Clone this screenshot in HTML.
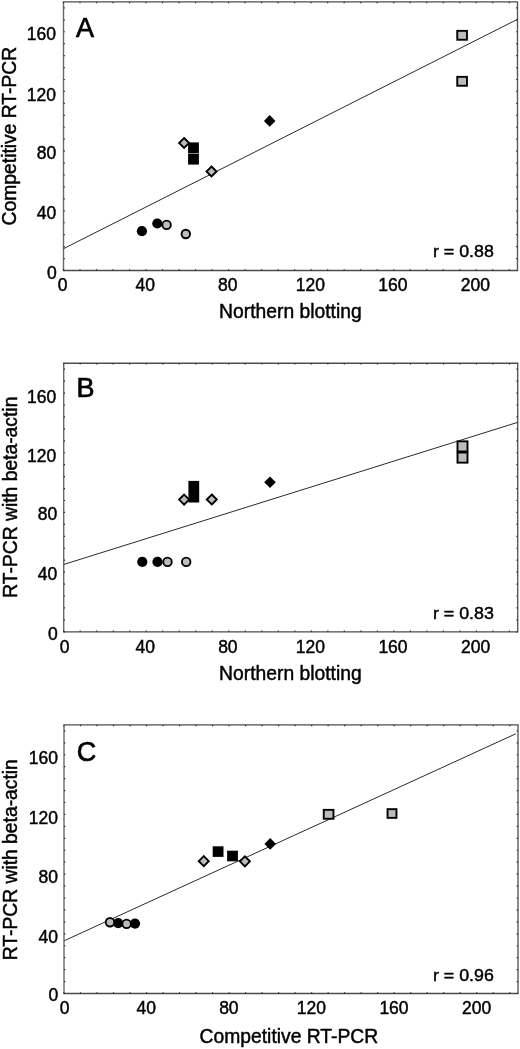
<!DOCTYPE html>
<html><head><meta charset="utf-8"><title>Figure</title>
<style>
html,body{margin:0;padding:0;background:#fff;}
body{width:520px;height:1049px;overflow:hidden;}
svg{display:block;filter:grayscale(1);}
text{font-family:"Liberation Sans",sans-serif;fill:#000;stroke:#000;stroke-width:0.45px;}
</style></head><body>
<svg width="520" height="1049" viewBox="0 0 520 1049">
<rect width="520" height="1049" fill="#fff"/>
<path d="M62.90 1.90H518.10M62.90 270.50H518.10" stroke="#4c4c4c" stroke-width="1.35" fill="none"/>
<path d="M63.50 1.90V270.50" stroke="#6a6a6a" stroke-width="1.4" fill="none"/>
<path d="M517.50 1.90V270.50" stroke="#555" stroke-width="1.35" fill="none"/>
<path d="M63.50 270.50v-1.3M63.50 1.90v1.3M80.01 270.50v-1.3M80.01 1.90v1.3M96.52 270.50v-1.3M96.52 1.90v1.3M113.03 270.50v-1.3M113.03 1.90v1.3M129.54 270.50v-1.3M129.54 1.90v1.3M146.05 270.50v-1.3M146.05 1.90v1.3M162.55 270.50v-1.3M162.55 1.90v1.3M179.06 270.50v-1.3M179.06 1.90v1.3M195.57 270.50v-1.3M195.57 1.90v1.3M212.08 270.50v-1.3M212.08 1.90v1.3M228.59 270.50v-1.3M228.59 1.90v1.3M245.10 270.50v-1.3M245.10 1.90v1.3M261.61 270.50v-1.3M261.61 1.90v1.3M278.12 270.50v-1.3M278.12 1.90v1.3M294.63 270.50v-1.3M294.63 1.90v1.3M311.14 270.50v-1.3M311.14 1.90v1.3M327.65 270.50v-1.3M327.65 1.90v1.3M344.15 270.50v-1.3M344.15 1.90v1.3M360.66 270.50v-1.3M360.66 1.90v1.3M377.17 270.50v-1.3M377.17 1.90v1.3M393.68 270.50v-1.3M393.68 1.90v1.3M410.19 270.50v-1.3M410.19 1.90v1.3M426.70 270.50v-1.3M426.70 1.90v1.3M443.21 270.50v-1.3M443.21 1.90v1.3M459.72 270.50v-1.3M459.72 1.90v1.3M476.23 270.50v-1.3M476.23 1.90v1.3M492.74 270.50v-1.3M492.74 1.90v1.3M509.25 270.50v-1.3M509.25 1.90v1.3M63.50 270.50h1.3M517.50 270.50h-1.3M63.50 258.56h1.3M517.50 258.56h-1.3M63.50 246.62h1.3M517.50 246.62h-1.3M63.50 234.69h1.3M517.50 234.69h-1.3M63.50 222.75h1.3M517.50 222.75h-1.3M63.50 210.81h1.3M517.50 210.81h-1.3M63.50 198.87h1.3M517.50 198.87h-1.3M63.50 186.94h1.3M517.50 186.94h-1.3M63.50 175.00h1.3M517.50 175.00h-1.3M63.50 163.06h1.3M517.50 163.06h-1.3M63.50 151.12h1.3M517.50 151.12h-1.3M63.50 139.18h1.3M517.50 139.18h-1.3M63.50 127.25h1.3M517.50 127.25h-1.3M63.50 115.31h1.3M517.50 115.31h-1.3M63.50 103.37h1.3M517.50 103.37h-1.3M63.50 91.43h1.3M517.50 91.43h-1.3M63.50 79.50h1.3M517.50 79.50h-1.3M63.50 67.56h1.3M517.50 67.56h-1.3M63.50 55.62h1.3M517.50 55.62h-1.3M63.50 43.68h1.3M517.50 43.68h-1.3M63.50 31.74h1.3M517.50 31.74h-1.3M63.50 19.81h1.3M517.50 19.81h-1.3M63.50 7.87h1.3M517.50 7.87h-1.3" stroke="#2a2a2a" stroke-width="1.2" fill="none"/>
<text x="55.90" y="40.10" text-anchor="end" font-size="17.5">160</text>
<text x="55.90" y="101.10" text-anchor="end" font-size="17.5">120</text>
<text x="56.30" y="158.80" text-anchor="end" font-size="17.5">80</text>
<text x="56.30" y="219.00" text-anchor="end" font-size="17.5">40</text>
<text x="56.70" y="278.70" text-anchor="end" font-size="17.5">0</text>
<text x="62.70" y="290.70" text-anchor="middle" font-size="17.5">0</text>
<text x="145.25" y="290.70" text-anchor="middle" font-size="17.5">40</text>
<text x="227.79" y="290.70" text-anchor="middle" font-size="17.5">80</text>
<text x="310.34" y="290.70" text-anchor="middle" font-size="17.5">120</text>
<text x="392.88" y="290.70" text-anchor="middle" font-size="17.5">160</text>
<text x="475.43" y="290.70" text-anchor="middle" font-size="17.5">200</text>
<text x="290.40" y="317.70" text-anchor="middle" font-size="19.3">Northern blotting</text>
<text transform="translate(16.00 136.10) rotate(-90)" text-anchor="middle" font-size="19.3">Competitive RT-PCR</text>
<text x="76.00" y="37.30" font-size="27" style="stroke-width:0.7px">A</text>
<text transform="translate(433.00 257.00) scale(1.06 1)" font-size="16.8">r = 0.88</text>
<line x1="63.5" y1="248.7" x2="517.5" y2="19.3" stroke="#2a2a2a" stroke-width="1.0"/>
<rect x="188.10" y="153.90" width="10.8" height="10.7" fill="#000"/>
<rect x="188.10" y="142.40" width="10.8" height="11.0" fill="#000"/>
<path d="M184.1 138.0L189.1 143.0L184.1 148.0L179.1 143.0Z" fill="#bcbcbc" stroke="#000" stroke-width="1.9" stroke-linejoin="miter"/>
<path d="M211.5 166.5L216.5 171.5L211.5 176.5L206.5 171.5Z" fill="#bcbcbc" stroke="#000" stroke-width="1.9" stroke-linejoin="miter"/>
<circle cx="141.9" cy="231.2" r="5.1" fill="#000"/>
<circle cx="157.3" cy="223.5" r="5.1" fill="#000"/>
<circle cx="166.6" cy="224.9" r="4.25" fill="#bcbcbc" stroke="#000" stroke-width="1.9"/>
<circle cx="185.8" cy="234.0" r="4.25" fill="#bcbcbc" stroke="#000" stroke-width="1.9"/>
<path d="M269.7 115.10000000000001L275.5 120.9L269.7 126.7L263.9 120.9Z" fill="#000"/>
<rect x="457.25" y="30.85" width="9.70" height="8.90" fill="#bcbcbc" stroke="#000" stroke-width="1.9"/>
<rect x="457.25" y="76.85" width="9.70" height="8.90" fill="#bcbcbc" stroke="#000" stroke-width="1.9"/>
<path d="M63.10 363.20H518.30M63.10 631.80H518.30" stroke="#4c4c4c" stroke-width="1.35" fill="none"/>
<path d="M63.70 363.20V631.80" stroke="#6a6a6a" stroke-width="1.4" fill="none"/>
<path d="M517.70 363.20V631.80" stroke="#555" stroke-width="1.35" fill="none"/>
<path d="M63.70 631.80v-1.3M63.70 363.20v1.3M80.21 631.80v-1.3M80.21 363.20v1.3M96.72 631.80v-1.3M96.72 363.20v1.3M113.23 631.80v-1.3M113.23 363.20v1.3M129.74 631.80v-1.3M129.74 363.20v1.3M146.25 631.80v-1.3M146.25 363.20v1.3M162.75 631.80v-1.3M162.75 363.20v1.3M179.26 631.80v-1.3M179.26 363.20v1.3M195.77 631.80v-1.3M195.77 363.20v1.3M212.28 631.80v-1.3M212.28 363.20v1.3M228.79 631.80v-1.3M228.79 363.20v1.3M245.30 631.80v-1.3M245.30 363.20v1.3M261.81 631.80v-1.3M261.81 363.20v1.3M278.32 631.80v-1.3M278.32 363.20v1.3M294.83 631.80v-1.3M294.83 363.20v1.3M311.34 631.80v-1.3M311.34 363.20v1.3M327.85 631.80v-1.3M327.85 363.20v1.3M344.35 631.80v-1.3M344.35 363.20v1.3M360.86 631.80v-1.3M360.86 363.20v1.3M377.37 631.80v-1.3M377.37 363.20v1.3M393.88 631.80v-1.3M393.88 363.20v1.3M410.39 631.80v-1.3M410.39 363.20v1.3M426.90 631.80v-1.3M426.90 363.20v1.3M443.41 631.80v-1.3M443.41 363.20v1.3M459.92 631.80v-1.3M459.92 363.20v1.3M476.43 631.80v-1.3M476.43 363.20v1.3M492.94 631.80v-1.3M492.94 363.20v1.3M509.45 631.80v-1.3M509.45 363.20v1.3M63.70 631.80h1.3M517.70 631.80h-1.3M63.70 619.86h1.3M517.70 619.86h-1.3M63.70 607.92h1.3M517.70 607.92h-1.3M63.70 595.99h1.3M517.70 595.99h-1.3M63.70 584.05h1.3M517.70 584.05h-1.3M63.70 572.11h1.3M517.70 572.11h-1.3M63.70 560.17h1.3M517.70 560.17h-1.3M63.70 548.24h1.3M517.70 548.24h-1.3M63.70 536.30h1.3M517.70 536.30h-1.3M63.70 524.36h1.3M517.70 524.36h-1.3M63.70 512.42h1.3M517.70 512.42h-1.3M63.70 500.48h1.3M517.70 500.48h-1.3M63.70 488.55h1.3M517.70 488.55h-1.3M63.70 476.61h1.3M517.70 476.61h-1.3M63.70 464.67h1.3M517.70 464.67h-1.3M63.70 452.73h1.3M517.70 452.73h-1.3M63.70 440.80h1.3M517.70 440.80h-1.3M63.70 428.86h1.3M517.70 428.86h-1.3M63.70 416.92h1.3M517.70 416.92h-1.3M63.70 404.98h1.3M517.70 404.98h-1.3M63.70 393.04h1.3M517.70 393.04h-1.3M63.70 381.11h1.3M517.70 381.11h-1.3M63.70 369.17h1.3M517.70 369.17h-1.3" stroke="#2a2a2a" stroke-width="1.2" fill="none"/>
<text x="56.30" y="402.50" text-anchor="end" font-size="17.5">160</text>
<text x="56.30" y="461.70" text-anchor="end" font-size="17.5">120</text>
<text x="57.30" y="520.40" text-anchor="end" font-size="17.5">80</text>
<text x="57.30" y="580.00" text-anchor="end" font-size="17.5">40</text>
<text x="57.80" y="639.80" text-anchor="end" font-size="17.5">0</text>
<text x="64.50" y="653.20" text-anchor="middle" font-size="17.5">0</text>
<text x="145.35" y="653.20" text-anchor="middle" font-size="17.5">40</text>
<text x="227.89" y="653.20" text-anchor="middle" font-size="17.5">80</text>
<text x="310.44" y="653.20" text-anchor="middle" font-size="17.5">120</text>
<text x="392.98" y="653.20" text-anchor="middle" font-size="17.5">160</text>
<text x="475.53" y="653.20" text-anchor="middle" font-size="17.5">200</text>
<text x="290.40" y="679.80" text-anchor="middle" font-size="19.3">Northern blotting</text>
<text transform="translate(16.50 497.20) rotate(-90)" text-anchor="middle" font-size="19.3">RT-PCR with beta-actin</text>
<text x="76.50" y="397.00" font-size="27" style="stroke-width:0.7px">B</text>
<text transform="translate(433.00 618.80) scale(1.06 1)" font-size="16.8">r = 0.83</text>
<line x1="63.6" y1="564.5" x2="517.8" y2="422.3" stroke="#2a2a2a" stroke-width="1.0"/>
<rect x="188.40" y="480.90" width="10.8" height="21.6" fill="#000"/>
<path d="M184.1 494.6L189.1 499.6L184.1 504.6L179.1 499.6Z" fill="#bcbcbc" stroke="#000" stroke-width="1.9" stroke-linejoin="miter"/>
<path d="M211.8 494.5L216.8 499.5L211.8 504.5L206.8 499.5Z" fill="#bcbcbc" stroke="#000" stroke-width="1.9" stroke-linejoin="miter"/>
<circle cx="142.3" cy="561.9" r="5.1" fill="#000"/>
<circle cx="157.5" cy="561.9" r="5.1" fill="#000"/>
<circle cx="167.5" cy="561.9" r="4.25" fill="#bcbcbc" stroke="#000" stroke-width="1.9"/>
<circle cx="186.2" cy="561.9" r="4.25" fill="#bcbcbc" stroke="#000" stroke-width="1.9"/>
<path d="M270.0 476.5L275.8 482.3L270.0 488.1L264.2 482.3Z" fill="#000"/>
<rect x="457.50" y="441.35" width="10.00" height="10.10" fill="#bcbcbc" stroke="#000" stroke-width="1.9"/>
<rect x="457.50" y="452.55" width="10.00" height="10.10" fill="#bcbcbc" stroke="#000" stroke-width="1.9"/>
<path d="M63.40 724.90H518.60M63.40 993.50H518.60" stroke="#4c4c4c" stroke-width="1.35" fill="none"/>
<path d="M64.00 724.90V993.50" stroke="#6a6a6a" stroke-width="1.4" fill="none"/>
<path d="M518.00 724.90V993.50" stroke="#555" stroke-width="1.35" fill="none"/>
<path d="M64.00 993.50v-1.3M64.00 724.90v1.3M80.51 993.50v-1.3M80.51 724.90v1.3M97.02 993.50v-1.3M97.02 724.90v1.3M113.53 993.50v-1.3M113.53 724.90v1.3M130.04 993.50v-1.3M130.04 724.90v1.3M146.55 993.50v-1.3M146.55 724.90v1.3M163.05 993.50v-1.3M163.05 724.90v1.3M179.56 993.50v-1.3M179.56 724.90v1.3M196.07 993.50v-1.3M196.07 724.90v1.3M212.58 993.50v-1.3M212.58 724.90v1.3M229.09 993.50v-1.3M229.09 724.90v1.3M245.60 993.50v-1.3M245.60 724.90v1.3M262.11 993.50v-1.3M262.11 724.90v1.3M278.62 993.50v-1.3M278.62 724.90v1.3M295.13 993.50v-1.3M295.13 724.90v1.3M311.64 993.50v-1.3M311.64 724.90v1.3M328.15 993.50v-1.3M328.15 724.90v1.3M344.65 993.50v-1.3M344.65 724.90v1.3M361.16 993.50v-1.3M361.16 724.90v1.3M377.67 993.50v-1.3M377.67 724.90v1.3M394.18 993.50v-1.3M394.18 724.90v1.3M410.69 993.50v-1.3M410.69 724.90v1.3M427.20 993.50v-1.3M427.20 724.90v1.3M443.71 993.50v-1.3M443.71 724.90v1.3M460.22 993.50v-1.3M460.22 724.90v1.3M476.73 993.50v-1.3M476.73 724.90v1.3M493.24 993.50v-1.3M493.24 724.90v1.3M509.75 993.50v-1.3M509.75 724.90v1.3M64.00 993.50h1.3M518.00 993.50h-1.3M64.00 981.56h1.3M518.00 981.56h-1.3M64.00 969.62h1.3M518.00 969.62h-1.3M64.00 957.69h1.3M518.00 957.69h-1.3M64.00 945.75h1.3M518.00 945.75h-1.3M64.00 933.81h1.3M518.00 933.81h-1.3M64.00 921.87h1.3M518.00 921.87h-1.3M64.00 909.94h1.3M518.00 909.94h-1.3M64.00 898.00h1.3M518.00 898.00h-1.3M64.00 886.06h1.3M518.00 886.06h-1.3M64.00 874.12h1.3M518.00 874.12h-1.3M64.00 862.18h1.3M518.00 862.18h-1.3M64.00 850.25h1.3M518.00 850.25h-1.3M64.00 838.31h1.3M518.00 838.31h-1.3M64.00 826.37h1.3M518.00 826.37h-1.3M64.00 814.43h1.3M518.00 814.43h-1.3M64.00 802.50h1.3M518.00 802.50h-1.3M64.00 790.56h1.3M518.00 790.56h-1.3M64.00 778.62h1.3M518.00 778.62h-1.3M64.00 766.68h1.3M518.00 766.68h-1.3M64.00 754.74h1.3M518.00 754.74h-1.3M64.00 742.81h1.3M518.00 742.81h-1.3M64.00 730.87h1.3M518.00 730.87h-1.3" stroke="#2a2a2a" stroke-width="1.2" fill="none"/>
<text x="58.00" y="764.10" text-anchor="end" font-size="17.5">160</text>
<text x="58.00" y="823.50" text-anchor="end" font-size="17.5">120</text>
<text x="58.00" y="883.20" text-anchor="end" font-size="17.5">80</text>
<text x="58.00" y="942.90" text-anchor="end" font-size="17.5">40</text>
<text x="58.30" y="1001.30" text-anchor="end" font-size="17.5">0</text>
<text x="64.50" y="1013.50" text-anchor="middle" font-size="17.5">0</text>
<text x="146.35" y="1013.50" text-anchor="middle" font-size="17.5">40</text>
<text x="228.89" y="1013.50" text-anchor="middle" font-size="17.5">80</text>
<text x="311.44" y="1013.50" text-anchor="middle" font-size="17.5">120</text>
<text x="393.98" y="1013.50" text-anchor="middle" font-size="17.5">160</text>
<text x="476.53" y="1013.50" text-anchor="middle" font-size="17.5">200</text>
<text x="288.90" y="1043.30" text-anchor="middle" font-size="19.3">Competitive RT-PCR</text>
<text transform="translate(16.50 859.75) rotate(-90)" text-anchor="middle" font-size="19.3">RT-PCR with beta-actin</text>
<text x="76.80" y="760.50" font-size="27" style="stroke-width:0.7px">C</text>
<text transform="translate(433.00 980.80) scale(1.06 1)" font-size="16.8">r = 0.96</text>
<line x1="64.3" y1="940.7" x2="515.8" y2="733.8" stroke="#2a2a2a" stroke-width="1.0"/>
<circle cx="118.2" cy="923.2" r="5.1" fill="#000"/>
<circle cx="135.0" cy="923.6" r="5.1" fill="#000"/>
<circle cx="110.0" cy="922.3" r="4.25" fill="#bcbcbc" stroke="#000" stroke-width="1.9"/>
<circle cx="126.6" cy="923.9" r="4.25" fill="#bcbcbc" stroke="#000" stroke-width="1.9"/>
<rect x="212.70" y="846.30" width="10.8" height="10.6" fill="#000"/>
<rect x="227.10" y="850.70" width="10.8" height="10.6" fill="#000"/>
<path d="M203.8 856.2L208.8 861.2L203.8 866.2L198.8 861.2Z" fill="#bcbcbc" stroke="#000" stroke-width="1.9" stroke-linejoin="miter"/>
<path d="M244.9 856.3L249.9 861.3L244.9 866.3L239.9 861.3Z" fill="#bcbcbc" stroke="#000" stroke-width="1.9" stroke-linejoin="miter"/>
<path d="M270.2 838.1L276.0 843.9L270.2 849.6999999999999L264.4 843.9Z" fill="#000"/>
<rect x="323.75" y="809.85" width="9.70" height="8.90" fill="#bcbcbc" stroke="#000" stroke-width="1.9"/>
<rect x="387.55" y="809.15" width="8.90" height="8.70" fill="#bcbcbc" stroke="#000" stroke-width="1.9"/>
</svg>
</body></html>
